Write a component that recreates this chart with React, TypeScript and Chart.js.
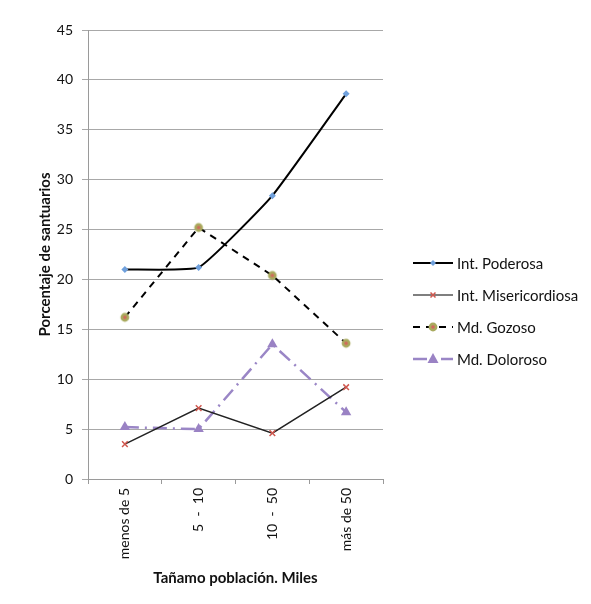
import React, { useEffect, useRef } from "react";
import { Chart, registerables } from "chart.js";

Chart.register(...registerables);

const categories = ["menos de 5", "5  -  10", "10  -  50", "más de 50"];
const poderosa = [21.0, 21.2, 28.4, 38.6];
const misericordiosa = [3.5, 7.1, 4.6, 9.2];
const gozoso = [16.2, 25.2, 20.4, 13.6];
const doloroso = [5.2, 5.0, 13.5, 6.7];
const seriesNames = ["Int. Poderosa", "Int. Misericordiosa", "Md. Gozoso", "Md. Doloroso"];
const yTitle = "Porcentaje de santuarios";
const xTitle = "Tañamo población. Miles";

const FONT = "Lato, 'Open Sans', sans-serif";

function makeGozosoMarker(): HTMLCanvasElement {
  const c = document.createElement("canvas");
  c.width = 12;
  c.height = 12;
  const g = c.getContext("2d")!;
  g.fillStyle = "#a9aa5e";
  g.beginPath();
  g.arc(6, 6, 4.4, 0, Math.PI * 2);
  g.fill();
  g.fillStyle = "#d2685c";
  g.beginPath();
  g.arc(6, 6, 1.8, 0, Math.PI * 2);
  g.fill();
  return c;
}

export default function App() {
  const ref = useRef<HTMLCanvasElement | null>(null);

  useEffect(() => {
    document.body.style.margin = "0";
    const gozMarker = makeGozosoMarker();

    const legendPlugin = {
      id: "customLegend",
      afterDraw(chart: any) {
        const ctx = chart.ctx;
        const ca = chart.chartArea;
        const x0 = ca.right + 30;
        const x1 = x0 + 40;
        const tx = x1 + 4;
        const ys = [263, 295, 327, 359];
        ctx.save();
        chart.data.datasets.forEach((ds: any, i: number) => {
          const y = ys[i];
          ctx.strokeStyle = i === 1 ? "#555" : ds.borderColor;
          ctx.lineWidth = ds.borderWidth;
          ctx.setLineDash(ds.borderDash || []);
          ctx.beginPath();
          ctx.moveTo(x0, y);
          ctx.lineTo(x1, y);
          ctx.stroke();
          ctx.setLineDash([]);
          const cx = (x0 + x1) / 2;
          if (i === 0) {
            ctx.fillStyle = ds.pointBackgroundColor;
            ctx.beginPath();
            ctx.moveTo(cx, y - 3);
            ctx.lineTo(cx + 3, y);
            ctx.lineTo(cx, y + 3);
            ctx.lineTo(cx - 3, y);
            ctx.closePath();
            ctx.fill();
          } else if (i === 1) {
            ctx.strokeStyle = ds.pointBorderColor;
            ctx.lineWidth = 1.5;
            ctx.beginPath();
            ctx.moveTo(cx - 2.5, y - 2.5);
            ctx.lineTo(cx + 2.5, y + 2.5);
            ctx.moveTo(cx + 2.5, y - 2.5);
            ctx.lineTo(cx - 2.5, y + 2.5);
            ctx.stroke();
          } else if (i === 2) {
            ctx.drawImage(gozMarker, cx - 6, y - 6);
          } else {
            ctx.fillStyle = ds.pointBackgroundColor;
            ctx.beginPath();
            ctx.moveTo(cx, y - 6);
            ctx.lineTo(cx + 5.5, y + 4);
            ctx.lineTo(cx - 5.5, y + 4);
            ctx.closePath();
            ctx.fill();
          }
          ctx.fillStyle = "#111";
          ctx.font = "15px " + FONT;
          ctx.textBaseline = "middle";
          ctx.textAlign = "left";
          ctx.fillText(seriesNames[i], tx, y + 1);
        });
        ctx.restore();
      },
    };

    const chart = new Chart(ref.current!, {
      type: "line",
      data: {
        labels: categories,
        datasets: [
          {
            label: seriesNames[0],
            data: poderosa,
            borderColor: "#000000",
            borderWidth: 2,
            tension: 0.12,
            pointStyle: "rectRot",
            pointRadius: 3.5,
            pointBackgroundColor: "#6fa0dc",
            pointBorderColor: "#6fa0dc",
            pointBorderWidth: 0,
          },
          {
            label: seriesNames[1],
            data: misericordiosa,
            borderColor: "#222222",
            borderWidth: 1.5,
            tension: 0,
            pointStyle: "crossRot",
            pointRadius: 4,
            pointBorderColor: "#d0584f",
            pointBackgroundColor: "#d0584f",
            pointBorderWidth: 1.5,
          },
          {
            label: seriesNames[2],
            data: gozoso,
            borderColor: "#000000",
            borderWidth: 2,
            borderDash: [7, 6],
            tension: 0,
            pointStyle: gozMarker as any,
            pointRadius: 5,
            pointBackgroundColor: "#a9aa5e",
          },
          {
            label: seriesNames[3],
            data: doloroso,
            borderColor: "#9a86c6",
            borderWidth: 2.5,
            borderDash: [14, 6, 2, 6],
            tension: 0,
            pointStyle: "triangle",
            pointRadius: 6,
            pointBackgroundColor: "#9a82c4",
            pointBorderColor: "#9a82c4",
            pointBorderWidth: 0,
          },
        ],
      },
      options: {
        animation: false,
        responsive: true,
        maintainAspectRatio: false,
        layout: { padding: { left: 33, right: 208, top: 30, bottom: 13 } },
        plugins: { legend: { display: false }, tooltip: { enabled: false } },
        scales: {
          x: {
            type: "category",
            offset: true,
            grid: {
              display: true,
              drawOnChartArea: false,
              drawTicks: true,
              tickLength: 5,
              color: "#9a9a9a",
              offset: true,
            },
            border: { display: true, color: "#9a9a9a" },
            ticks: {
              minRotation: 90,
              maxRotation: 90,
              padding: 4,
              color: "#111",
              font: { family: FONT, size: 14 },
            },
            title: {
              display: true,
              text: xTitle,
              color: "#111",
              font: { family: FONT, size: 15, weight: "bold" },
              padding: { top: 4, bottom: 4 },
            },
            afterFit(scale: any) {
              scale.height = 112;
            },
          },
          y: {
            min: 0,
            max: 45,
            ticks: {
              stepSize: 5,
              padding: 9,
              color: "#111",
              font: { family: FONT, size: 14 },
            },
            grid: {
              color: "#a8a8a8",
              tickLength: 6,
              lineWidth: 1,
            },
            border: { display: true, color: "#9a9a9a" },
            title: {
              display: true,
              text: yTitle,
              color: "#111",
              font: { family: FONT, size: 15, weight: "bold" },
              padding: { top: 3, bottom: 3 },
            },
            afterFit(scale: any) {
              scale.width = 55;
            },
          },
        },
      },
      plugins: [legendPlugin],
    } as any);

    return () => chart.destroy();
  }, []);

  return (
    <div style={{ position: "fixed", left: 0, top: 0, width: 591, height: 604, background: "#fff" }}>
      <canvas ref={ref} />
    </div>
  );
}
